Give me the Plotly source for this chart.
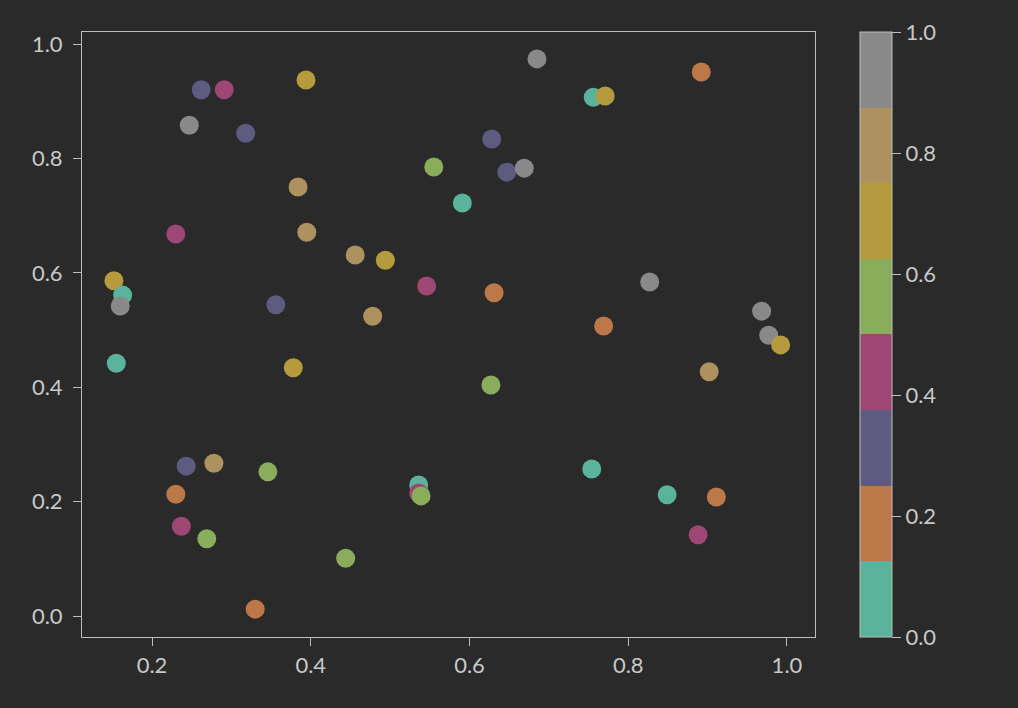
import plotly.graph_objects as go

# data
x_vals = [0.685, 0.892, 0.394, 0.262, 0.291, 0.247, 0.318, 0.756, 0.771, 0.628,
          0.647, 0.669, 0.555, 0.591, 0.384, 0.395, 0.230, 0.456, 0.494, 0.152,
          0.163, 0.160, 0.155, 0.356, 0.378, 0.478, 0.546, 0.631, 0.827, 0.769,
          0.968, 0.977, 0.992, 0.902, 0.627, 0.243, 0.278, 0.346, 0.230, 0.237,
          0.269, 0.444, 0.330, 0.536, 0.536, 0.539, 0.754, 0.849, 0.911, 0.888]
y_vals = [0.974, 0.951, 0.937, 0.920, 0.920, 0.858, 0.844, 0.907, 0.909, 0.834,
          0.776, 0.783, 0.785, 0.722, 0.750, 0.671, 0.668, 0.631, 0.622, 0.586,
          0.561, 0.542, 0.442, 0.544, 0.434, 0.524, 0.577, 0.565, 0.584, 0.507,
          0.533, 0.491, 0.474, 0.427, 0.404, 0.262, 0.267, 0.252, 0.213, 0.157,
          0.135, 0.101, 0.012, 0.229, 0.215, 0.210, 0.257, 0.212, 0.208, 0.142]
c_vals = [0.94, 0.19, 0.69, 0.31, 0.44, 0.94, 0.31, 0.06, 0.69, 0.31,
          0.31, 0.94, 0.56, 0.06, 0.81, 0.81, 0.44, 0.81, 0.69, 0.69,
          0.06, 0.94, 0.06, 0.31, 0.69, 0.81, 0.44, 0.19, 0.94, 0.19,
          0.94, 0.94, 0.69, 0.81, 0.56, 0.31, 0.81, 0.56, 0.19, 0.44,
          0.56, 0.56, 0.19, 0.06, 0.44, 0.56, 0.06, 0.06, 0.19, 0.44]

palette = ["#5ab39b", "#bd7849", "#5e5b80", "#9e4674", "#89ad5b", "#b59a3e", "#ad915e", "#898989"]
tick_vals = [0.0, 0.2, 0.4, 0.6, 0.8, 1.0]

n = len(palette)
colorscale = []
for i, col in enumerate(palette):
    colorscale.append([i / n, col])
    colorscale.append([(i + 1) / n, col])

BG = "#2a2a2a"
FG = "#c8c8c8"
LINE = "#bdbdbd"
FS = 22

fig = go.Figure(go.Scatter(
    x=x_vals, y=y_vals, mode="markers",
    marker=dict(size=19, color=c_vals, colorscale=colorscale, cmin=0, cmax=1,
                line=dict(width=0),
                colorbar=dict(x=(860 - 82) / 733, xanchor="left", xpad=0, ypad=0,
                              y=0.5, yanchor="middle", len=1, lenmode="fraction",
                              thickness=32, thicknessmode="pixels",
                              outlinecolor=LINE, outlinewidth=1,
                              tickvals=tick_vals, ticktext=[f"{v:.1f}" for v in tick_vals],
                              ticks="outside", ticklen=9, tickcolor=LINE, tickwidth=1,
                              tickfont=dict(color=FG, size=FS, family="Lato"))),
    showlegend=False,
))

fig.update_layout(
    width=1018, height=708,
    margin=dict(l=82, r=203, t=32, b=71),
    paper_bgcolor=BG, plot_bgcolor=BG,
    font=dict(family="Lato", color=FG, size=FS),
    xaxis=dict(range=[0.1118, 1.0353], tickvals=[0.2, 0.4, 0.6, 0.8, 1.0],
               ticktext=["0.2", "0.4", "0.6", "0.8", "1.0"],
               showgrid=False, zeroline=False, showline=True, mirror=True,
               linecolor=LINE, linewidth=1, ticks="outside", ticklen=8,
               tickcolor=LINE, tickwidth=1, ticklabelstandoff=1),
    yaxis=dict(range=[-0.0367, 1.021], tickvals=tick_vals,
               ticktext=[f"{v:.1f}" for v in tick_vals],
               showgrid=False, zeroline=False, showline=True, mirror=True,
               linecolor=LINE, linewidth=1, ticks="outside", ticklen=8,
               tickcolor=LINE, tickwidth=1, ticklabelstandoff=6),
)

fig.write_html("out.html", config={"displayModeBar": False},
               post_script="document.body.style.margin='0';document.body.style.overflow='hidden';document.body.style.background='#2a2a2a';")
